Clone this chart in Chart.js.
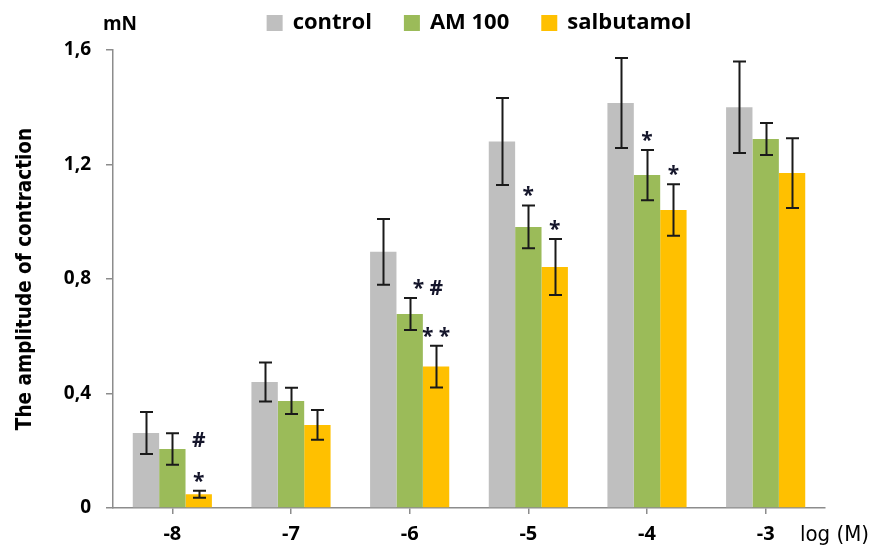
<!DOCTYPE html>
<html>
<head>
<meta charset="utf-8">
<script src="https://cdn.jsdelivr.net/npm/chart.js@4"></script>
<style>
html,body{margin:0;padding:0;background:#fff;}
#c{display:block;}
</style>
</head>
<body>
<canvas id="c" width="879" height="548"></canvas>
<script>
// ---- data ----
const categories = ['-8', '-7', '-6', '-5', '-4', '-3'];
const seriesNames = ['control', 'AM 100', 'salbutamol'];
const controlValues = [0.262, 0.44, 0.895, 1.28, 1.415, 1.40];
const controlErrors = [0.073, 0.068, 0.115, 0.152, 0.157, 0.16];
const am100Values = [0.206, 0.374, 0.678, 0.982, 1.163, 1.289];
const am100Errors = [0.055, 0.046, 0.056, 0.075, 0.088, 0.056];
const salbutamolValues = [0.048, 0.29, 0.494, 0.842, 1.041, 1.17];
const salbutamolErrors = [0.012, 0.052, 0.073, 0.098, 0.09, 0.122];
const yTickValues = [0, 0.4, 0.8, 1.2, 1.6];
const yTickLabels = ['0', '0,4', '0,8', '1,2', '1,6'];
const yAxisTitle = 'The amplitude of contraction';
const yUnit = 'mN';
const xUnit = 'log (M)';
// significance marks: series, category, text (stacked upward in listed order)
const sigMarks = [
  {series: 'salbutamol', cat: '-8', text: '*'},
  {series: 'salbutamol', cat: '-8', text: '#'},
  {series: 'AM 100', cat: '-6', text: '* #'},
  {series: 'salbutamol', cat: '-6', text: '* *'},
  {series: 'AM 100', cat: '-5', text: '*'},
  {series: 'salbutamol', cat: '-5', text: '*'},
  {series: 'AM 100', cat: '-4', text: '*'},
  {series: 'salbutamol', cat: '-4', text: '*'}
];

// ---- styles ----
const colors = ['#BFBFBF', '#9BBB59', '#FFC000'];
const errorsBySeries = [controlErrors, am100Errors, salbutamolErrors];
const markStyle = {'* #': {align: 'left', dx: 3}};

const errorBarPlugin = {
  id: 'errorBars',
  afterDatasetsDraw(chart) {
    const ctx = chart.ctx;
    const ys = chart.scales.y;
    ctx.save();
    ctx.strokeStyle = '#1a1a1a';
    ctx.lineWidth = 2;
    chart.data.datasets.forEach((ds, i) => {
      const meta = chart.getDatasetMeta(i);
      meta.data.forEach((el, j) => {
        const v = ds.data[j], e = errorsBySeries[i][j];
        const x = Math.round(el.x) + 0.5;
        const yt = ys.getPixelForValue(v + e);
        const yb = ys.getPixelForValue(v - e);
        const cap = 6.5;
        ctx.beginPath();
        ctx.moveTo(x, yt); ctx.lineTo(x, yb);
        ctx.moveTo(x - cap, yt); ctx.lineTo(x + cap, yt);
        ctx.moveTo(x - cap, yb); ctx.lineTo(x + cap, yb);
        ctx.stroke();
      });
    });
    ctx.restore();
  }
};

const legendPlugin = {
  id: 'topLegend',
  afterDraw(chart) {
    const ctx = chart.ctx;
    ctx.save();
    ctx.font = 'bold 22px "Open Sans", sans-serif';
    ctx.textBaseline = 'middle';
    ctx.textAlign = 'left';
    const box = 16, gapText = 10, gapItem = 32;
    const widths = seriesNames.map(n => box + gapText + ctx.measureText(n).width);
    const total = widths.reduce((a, b) => a + b, 0) + gapItem * (seriesNames.length - 1);
    const center = chart.chartArea.left + (chart.chartArea.right - chart.chartArea.left) / 2 + 10;
    let x = center - total / 2;
    const cy = 23;
    seriesNames.forEach((n, i) => {
      ctx.fillStyle = colors[i];
      ctx.fillRect(x, cy - box / 2, box, box);
      ctx.fillStyle = '#000';
      ctx.fillText(n, x + box + gapText, cy);
      x += widths[i] + gapItem;
    });
    ctx.restore();
  }
};

const annotationPlugin = {
  id: 'annotations',
  afterDraw(chart) {
    const ctx = chart.ctx;
    const ys = chart.scales.y;
    const area = chart.chartArea;
    ctx.save();
    ctx.fillStyle = '#15162b';
    ctx.font = 'bold 21px "Open Sans", sans-serif';
    ctx.textBaseline = 'alphabetic';
    const stack = {};
    sigMarks.forEach(m => {
      const si = seriesNames.indexOf(m.series);
      const ci = categories.indexOf(m.cat);
      const el = chart.getDatasetMeta(si).data[ci];
      const key = si + '_' + ci;
      const n = stack[key] || 0;
      stack[key] = n + 1;
      const top = ys.getPixelForValue(chart.data.datasets[si].data[ci] + errorsBySeries[si][ci]);
      const st = markStyle[m.text] || {align: 'center', dx: 0};
      ctx.textAlign = st.align;
      const centerY = top - 16 - n * 36;
      const baseY = m.text.indexOf('#') >= 0 && m.text.indexOf('*') < 0 ? centerY + 8 : centerY + 13;
      ctx.fillText(m.text, el.x + st.dx, baseY);
    });
    ctx.fillStyle = '#000';
    ctx.font = 'bold 19px "Open Sans", sans-serif';
    ctx.textAlign = 'center';
    ctx.fillText(yUnit, area.left + 7, 30);
    ctx.font = '22px "Liberation Sans Narrow", "DejaVu Sans Condensed", sans-serif';
    ctx.textAlign = 'left';
    ctx.fillText(xUnit, area.right - 25, 541);
    ctx.restore();
  }
};

new Chart(document.getElementById('c'), {
  type: 'bar',
  data: {
    labels: categories,
    datasets: [
      {label: seriesNames[0], data: controlValues, backgroundColor: colors[0]},
      {label: seriesNames[1], data: am100Values, backgroundColor: colors[1]},
      {label: seriesNames[2], data: salbutamolValues, backgroundColor: colors[2]}
    ]
  },
  options: {
    responsive: false,
    animation: false,
    devicePixelRatio: 1,
    layout: {padding: {left: 0, right: 54, top: 50, bottom: 0}},
    datasets: {bar: {categoryPercentage: 0.667, barPercentage: 1.0}},
    plugins: {
      legend: {display: false},
      tooltip: {enabled: false}
    },
    scales: {
      x: {
        grid: {display: true, drawOnChartArea: false, offset: false, tickLength: 6, color: '#8c8c8c', lineWidth: 1.5},
        border: {display: true, color: '#8c8c8c', width: 1.5},
        ticks: {color: '#000', padding: 8, font: {family: '"Open Sans", sans-serif', weight: 'bold', size: 20}},
        afterFit(s) { s.height = 40; }
      },
      y: {
        min: 0, max: 1.6,
        afterBuildTicks(s) { s.ticks = yTickValues.map(v => ({value: v})); },
        grid: {display: true, drawOnChartArea: false, tickLength: 7, color: '#8c8c8c', lineWidth: 1.5},
        border: {display: true, color: '#8c8c8c', width: 1.5},
        ticks: {
          color: '#000', padding: 15,
          font: {family: '"Open Sans", sans-serif', weight: 'bold', size: 19},
          callback(v) { const i = yTickValues.findIndex(t => Math.abs(t - v) < 1e-9); return i >= 0 ? yTickLabels[i] : ''; }
        },
        title: {
          display: true, text: yAxisTitle, color: '#000',
          padding: {top: 13, bottom: 0},
          font: {family: '"Liberation Sans Narrow", "DejaVu Sans Condensed", sans-serif', weight: 'bold', size: 20.5}
        },
        afterFit(s) { s.width = 113; }
      }
    }
  },
  plugins: [errorBarPlugin, legendPlugin, annotationPlugin]
});
</script>
</body>
</html>
